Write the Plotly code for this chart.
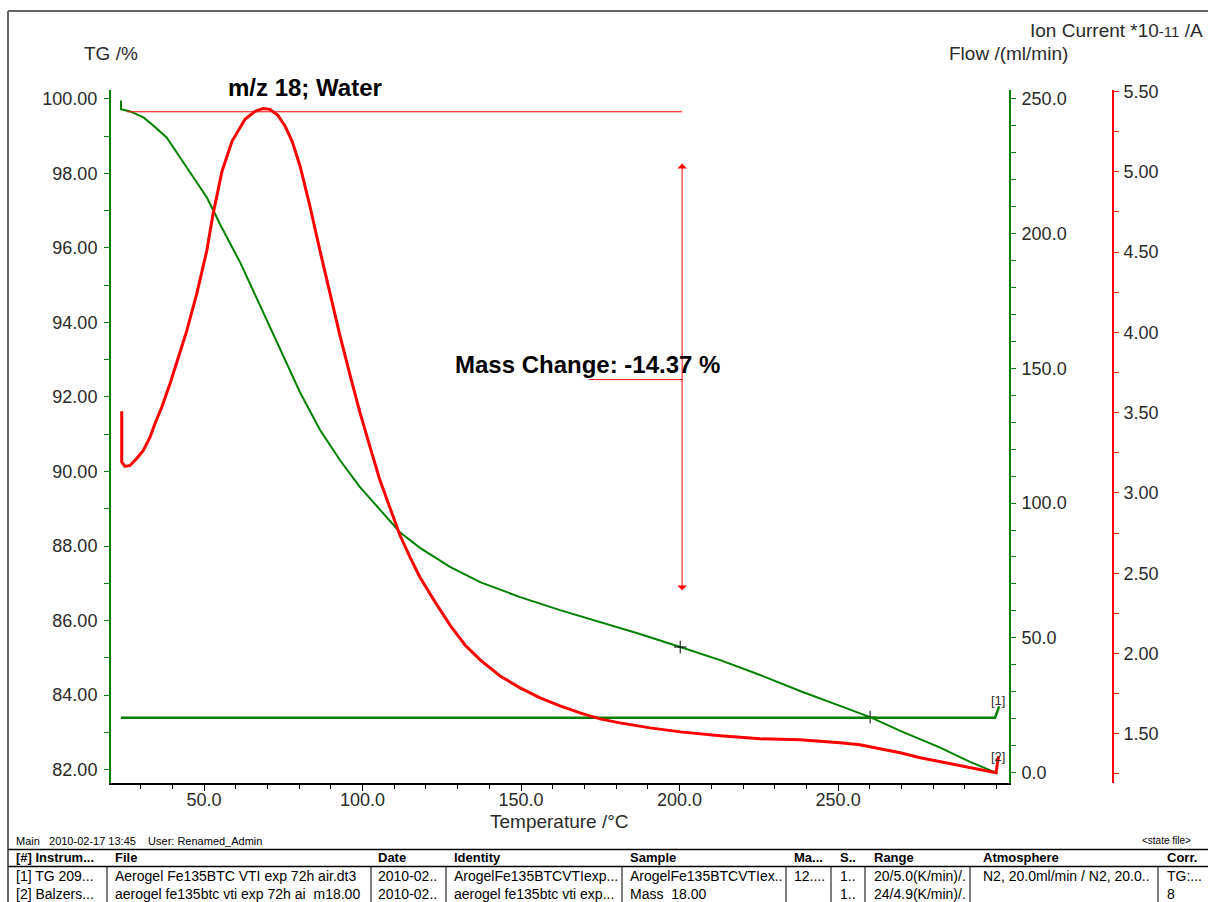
import plotly.graph_objects as go

# ---------------- data ----------------
T_tg = [23.8, 23.8, 26.7, 30.9, 34.0, 38.2, 42.4, 46.6, 50.9, 54.0, 55.0, 61.4, 67.7, 74.0,
        80.3, 86.6, 92.9, 99.2, 105.5, 111.8, 118.1, 127.6, 137.1, 149.7, 162.3, 174.9,
        187.5, 200.2, 212.8, 225.4, 238.0, 250.6, 260.1, 269.6, 282.2, 291.6, 298.0, 300.3]
tg = [99.95, 99.72, 99.66, 99.50, 99.28, 98.96, 98.43, 97.89, 97.35, 96.82, 96.64, 95.61,
      94.45, 93.25, 92.12, 91.11, 90.30, 89.58, 88.96, 88.37, 87.95, 87.44, 87.03, 86.63,
      86.28, 85.96, 85.64, 85.29, 84.94, 84.54, 84.11, 83.71, 83.41, 83.04, 82.59, 82.21,
      81.97, 81.90]

T_flow = [23.8, 60.0, 100.0, 150.0, 200.0, 250.0, 299.5, 300.8]
flow = [20.4, 20.3, 20.4, 20.4, 20.3, 20.4, 20.4, 24.6]

T_ic = [24.04, 24.04, 25.08, 26.66, 28.77, 30.85, 32.97, 34.54, 36.66, 39.27, 41.89, 44.54,
        47.70, 50.85, 52.84, 55.68, 58.83, 62.93, 66.09, 68.61, 70.8, 73.3, 75.6, 77.8,
        80.3, 83.4, 86.6, 89.8, 92.9, 96.1, 99.2, 102.4, 105.5, 108.7, 111.8, 115.0, 118.1,
        122.9, 127.6, 132.3, 137.1, 143.4, 149.7, 156.0, 162.3, 168.6, 174.9, 181.2, 190.7,
        200.2, 212.8, 225.4, 238.0, 250.6, 256.9, 263.2, 269.6, 275.9, 282.2, 288.5, 294.8,
        299.8, 300.6]
ic = [3.508, 3.192, 3.165, 3.171, 3.214, 3.264, 3.347, 3.432, 3.533, 3.680, 3.843, 4.009,
      4.239, 4.506, 4.736, 5.003, 5.189, 5.326, 5.376, 5.394, 5.388, 5.351, 5.283,
      5.189, 5.034, 4.786, 4.506, 4.227, 3.978, 3.730, 3.500, 3.283, 3.078, 2.904, 2.736,
      2.599, 2.475, 2.320, 2.177, 2.053, 1.960, 1.860, 1.786, 1.724, 1.674, 1.630, 1.593,
      1.568, 1.537, 1.512, 1.488, 1.469, 1.463, 1.444, 1.432, 1.407, 1.382, 1.351, 1.326,
      1.301, 1.276, 1.258, 1.36]

marker_T = [200.2, 260.1]
marker_tg = [85.29, 83.41]

x_ticks = [50, 100, 150, 200, 250]

step_start_T, step_end_T = 25.7, 200.8
tg_start, tg_end = 99.65, 85.28
mass_change_text = "Mass Change: -14.37 %"
ion_title = "m/z 18; Water"

headers = ["[#] Instrum...", "File", "Date", "Identity", "Sample", "Ma...", "S..", "Range",
           "Atmosphere", "Corr."]
row1 = ["[1] TG 209...", "Aerogel Fe135BTC VTI exp 72h air.dt3", "2010-02..",
        "ArogelFe135BTCVTIexp...", "ArogelFe135BTCVTIex..", "12....", "1..",
        "20/5.0(K/min)/.", "N2, 20.0ml/min / N2, 20.0..", "TG:..."]
row2 = ["[2] Balzers...", "aerogel fe135btc vti exp 72h ai&nbsp; m18.00", "2010-02..",
        "aerogel fe135btc vti exp...", "Mass&nbsp; 18.00", "", "1..", "24/4.9(K/min)/.", "", "8"]
status_text = "Main&nbsp;&nbsp; 2010-02-17 13:45&nbsp;&nbsp;&nbsp; User: Renamed_Admin"

# ---------------- layout helpers ----------------
W, H = 1208, 902
# empirical vertical correction of the capture (observed = 0.9928*y + 7.07)
V_SCALE, V_OFF = 0.9928, 7.07
def px(x):
    return x / W
def py(y):
    return 1 - ((y - V_OFF) / V_SCALE) / H

FONT = "Liberation Sans, Arial, sans-serif"
GREEN = "#008000"
RED = "#ff0000"
TXT = "#2a2a2a"

fig = go.Figure()
fig.add_trace(go.Scatter(x=T_flow, y=flow, mode="lines", yaxis="y2",
                         line=dict(color=GREEN, width=2.5), hoverinfo="skip"))
fig.add_trace(go.Scatter(x=T_tg, y=tg, mode="lines", yaxis="y",
                         line=dict(color=GREEN, width=2), hoverinfo="skip"))
fig.add_trace(go.Scatter(x=marker_T, y=marker_tg, mode="markers", yaxis="y",
                         marker=dict(symbol="cross-thin", size=9,
                                     line=dict(color="black", width=1)), hoverinfo="skip"))
fig.add_trace(go.Scatter(x=T_ic, y=ic, mode="lines", yaxis="y3",
                         line=dict(color=RED, width=3), hoverinfo="skip"))

tickfont = dict(family=FONT, size=18, color=TXT)

fig.update_layout(
    width=W, height=H, margin=dict(l=0, r=0, t=0, b=0),
    paper_bgcolor="white", plot_bgcolor="white", showlegend=False,
    font=dict(family=FONT, color=TXT),
    xaxis=dict(domain=[px(111), px(1009)], range=[20.66, 303.9], showline=True,
               linecolor="black", linewidth=2, ticks="outside", ticklen=6, tickwidth=1,
               tickcolor="black", tickmode="array", tickvals=x_ticks,
               ticktext=[f"{v:.1f}" for v in x_ticks], tickfont=tickfont,
               minor=dict(ticks="outside", ticklen=4, tickmode="linear", tick0=0, dtick=10,
                          tickcolor="black"),
               showgrid=False, zeroline=False, anchor="y", ticklabelstandoff=-6),
    yaxis=dict(domain=[py(783), py(89)], range=[81.652, 100.24], showline=True,
               linecolor=GREEN, linewidth=2, ticks="outside", ticklen=5, tickwidth=1,
               tickcolor=GREEN, tick0=0, dtick=2, tickformat=".2f", tickfont=tickfont,
               minor=dict(ticks="outside", ticklen=5, tick0=0, dtick=1, tickcolor=GREEN),
               showgrid=False, zeroline=False, ticklabelstandoff=3),
    yaxis2=dict(overlaying="y", side="right", anchor="x", range=[-3.7, 253.3],
                showline=True, linecolor=GREEN, linewidth=2, ticks="outside", ticklen=5,
                tickwidth=1, tickcolor=GREEN, tick0=0, dtick=50, tickformat=".1f",
                tickfont=tickfont,
                minor=dict(ticks="outside", ticklen=5, tick0=0, dtick=10, tickcolor=GREEN),
                showgrid=False, zeroline=False, ticklabelstandoff=2),
    yaxis3=dict(overlaying="y", side="right", anchor="free", position=px(1113),
                range=[1.196, 5.51], showline=True, linecolor=RED, linewidth=2,
                ticks="outside", ticklen=5, tickwidth=1, tickcolor=RED, tick0=0, dtick=0.5,
                tickformat=".2f", tickfont=tickfont,
                minor=dict(ticks="outside", ticklen=5, tick0=0, dtick=0.25, tickcolor=RED),
                showgrid=False, zeroline=False, ticklabelstandoff=1),
)

shapes = []
annotations = []

# mass-change construction lines
shapes.append(dict(type="line", xref="x", yref="y", x0=step_start_T, x1=step_end_T,
                   y0=tg_start, y1=tg_start, line=dict(color=RED, width=1)))
mid = (tg_start + tg_end) / 2
shapes.append(dict(type="line", xref="x", yref="y", x0=171.5, x1=step_end_T,
                   y0=mid, y1=mid, line=dict(color=RED, width=1)))
annotations.append(dict(xref="x", yref="y", x=step_end_T, y=98.26, axref="x", ayref="y",
                        ax=step_end_T, ay=86.77, text="", showarrow=True,
                        arrowside="end+start", arrowhead=1, arrowsize=1.6, arrowwidth=1,
                        arrowcolor=RED, standoff=0, startstandoff=0, startarrowhead=1,
                        startarrowsize=1.6))

def ann(x, y, text, size, bold=False, xanchor="center", color=TXT):
    annotations.append(dict(xref="paper", yref="paper", x=px(x), y=py(y),
                            text=f"<b>{text}</b>" if bold else text, showarrow=False,
                            xanchor=xanchor, yanchor="middle",
                            font=dict(family=FONT, size=size, color=color)))

ann(587, 364, mass_change_text, 24, bold=True, color="black")
ann(305, 87, ion_title, 24, bold=True, color="black")
ann(111, 53, "TG /%", 19)
ann(1008, 53, "Flow /(ml/min)", 19)
ann(1205, 30, "Ion Current *10<span style='font-size:15px'>-11</span> /A", 19, xanchor="right")
ann(559, 822, "Temperature /°C", 19)
ann(998, 701, "[1]", 13)
ann(998, 757, "[2]", 13)

# frame
shapes.append(dict(type="line", xref="paper", yref="paper", x0=px(8), x1=1, y0=py(10),
                   y1=py(10), line=dict(color="#666666", width=2)))
shapes.append(dict(type="line", xref="paper", yref="paper", x0=px(8), x1=px(8), y0=py(10),
                   y1=0, line=dict(color="#666666", width=2)))

# table
for yy in (850, 867):
    shapes.append(dict(type="line", xref="paper", yref="paper", x0=px(8), x1=1, y0=py(yy),
                       y1=py(yy), line=dict(color="black", width=1.5)))
sep_x = [107, 371, 446, 622, 786, 831, 865, 970, 1158]
for sx in sep_x:
    shapes.append(dict(type="line", xref="paper", yref="paper", x0=px(sx), x1=px(sx),
                       y0=py(867), y1=0, line=dict(color="black", width=1)))
col_x = [14, 113, 376, 452, 628, 792, 838, 872, 981, 1165]
ann(14, 841, status_text, 11, xanchor="left", color="black")
ann(1193, 841, "&lt;state file&gt;", 10, xanchor="right", color="black")
for cx, h, r1, r2 in zip(col_x, headers, row1, row2):
    ann(cx, 858, h, 13, bold=True, xanchor="left", color="black")
    if r1:
        ann(cx, 877, r1, 14, xanchor="left", color="black")
    if r2:
        ann(cx, 895, r2, 14, xanchor="left", color="black")

fig.update_layout(shapes=shapes, annotations=annotations)

fig.write_html(
    "out.html",
    config={"displayModeBar": False},
    post_script="document.body.style.margin='0';document.body.style.overflow='hidden';",
)
